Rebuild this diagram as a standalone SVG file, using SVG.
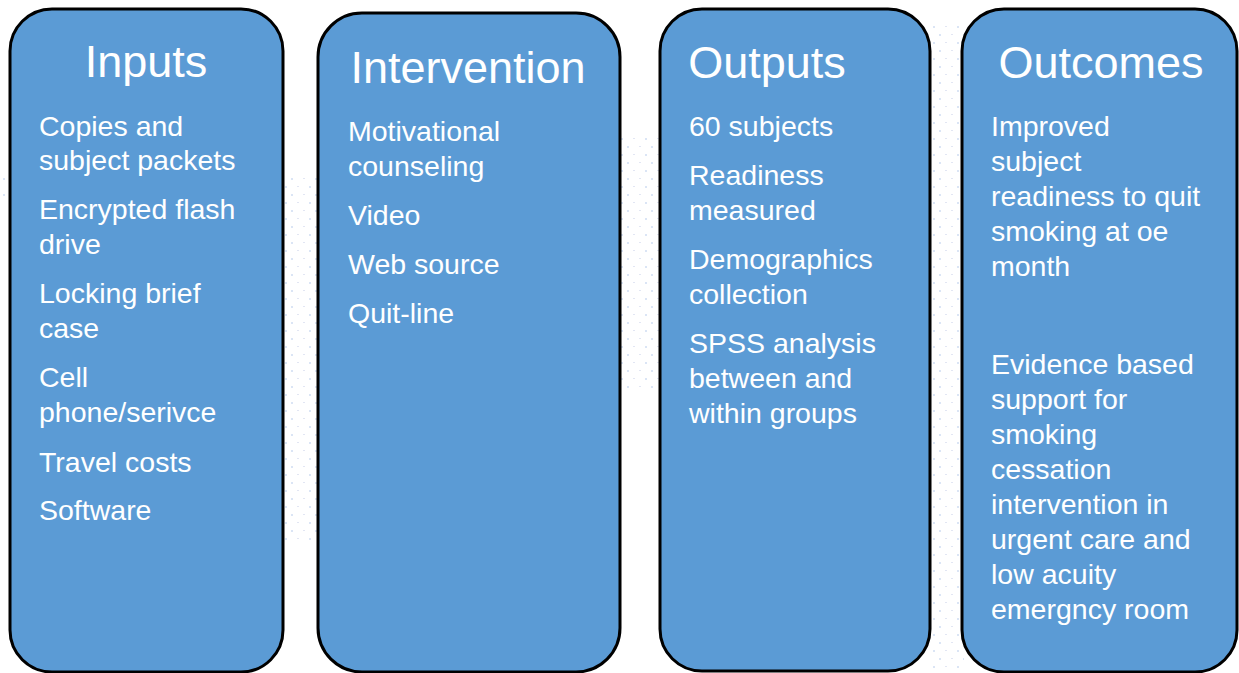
<svg xmlns="http://www.w3.org/2000/svg" width="1239" height="673" viewBox="0 0 1239 673">
  <defs>
    <pattern id="dots" x="0" y="0" width="24" height="16" patternUnits="userSpaceOnUse">
      <rect x="3" y="2" width="2" height="2" fill="#dbe5f5"/>
      <rect x="15" y="2" width="2" height="1" fill="#e2e6f3"/>
      <rect x="9" y="10" width="2" height="1" fill="#e2e6f3"/>
      <rect x="21" y="10" width="2" height="2" fill="#dbe5f5"/>
    </pattern>
    <style>
      .box { fill: #5b9bd5; stroke: #000; stroke-width: 3; }
      .title { font-family: "Liberation Sans", Arial, sans-serif; font-size: 45px; fill: #fff; text-anchor: middle; }
      .item { font-family: "Liberation Sans", Arial, sans-serif; font-size: 28.5px; fill: #fff; }
    </style>
  </defs>
  <rect width="1239" height="673" fill="#fff"/>
  <g id="background">
    <rect x="0" y="172" width="12" height="24" fill="url(#dots)"/>
    <rect x="282" y="172" width="38" height="372" fill="url(#dots)"/>
    <rect x="619" y="138" width="43" height="256" fill="url(#dots)"/>
    <rect x="930" y="24" width="34" height="649" fill="url(#dots)"/>
  </g>
  <g id="connectors"></g>
  <g id="inputs">
    <rect class="box" x="10" y="9" width="273" height="663" rx="42" ry="42"/>
    <text class="title" x="146" y="77">Inputs</text>
    <text class="item" x="39" y="136">Copies and</text>
    <text class="item" x="39" y="170">subject packets</text>
    <text class="item" x="39" y="219">Encrypted flash</text>
    <text class="item" x="39" y="254">drive</text>
    <text class="item" x="39" y="303">Locking brief</text>
    <text class="item" x="39" y="338">case</text>
    <text class="item" x="39" y="387">Cell</text>
    <text class="item" x="39" y="422">phone/serivce</text>
    <text class="item" x="39" y="472">Travel costs</text>
    <text class="item" x="39" y="520">Software</text>
  </g>
  <g id="intervention">
    <rect class="box" x="318" y="13" width="302" height="659" rx="44" ry="44"/>
    <text class="title" x="468" y="83">Intervention</text>
    <text class="item" x="348" y="141">Motivational</text>
    <text class="item" x="348" y="176">counseling</text>
    <text class="item" x="348" y="225">Video</text>
    <text class="item" x="348" y="274">Web source</text>
    <text class="item" x="348" y="323">Quit-line</text>
  </g>
  <g id="outputs">
    <rect class="box" x="660" y="9" width="270" height="662" rx="42" ry="42"/>
    <text class="title" x="767" y="78">Outputs</text>
    <text class="item" x="689" y="136">60 subjects</text>
    <text class="item" x="689" y="185">Readiness</text>
    <text class="item" x="689" y="220">measured</text>
    <text class="item" x="689" y="269">Demographics</text>
    <text class="item" x="689" y="304">collection</text>
    <text class="item" x="689" y="353">SPSS analysis</text>
    <text class="item" x="689" y="388">between and</text>
    <text class="item" x="689" y="423">within groups</text>
  </g>
  <g id="outcomes">
    <rect class="box" x="962" y="9" width="275" height="663" rx="42" ry="42"/>
    <text class="title" x="1101" y="78">Outcomes</text>
    <text class="item" x="991" y="136">Improved</text>
    <text class="item" x="991" y="171">subject</text>
    <text class="item" x="991" y="206">readiness to quit</text>
    <text class="item" x="991" y="241">smoking at oe</text>
    <text class="item" x="991" y="276">month</text>
    <text class="item" x="991" y="374">Evidence based</text>
    <text class="item" x="991" y="409">support for</text>
    <text class="item" x="991" y="444">smoking</text>
    <text class="item" x="991" y="479">cessation</text>
    <text class="item" x="991" y="514">intervention in</text>
    <text class="item" x="991" y="549">urgent care and</text>
    <text class="item" x="991" y="584">low acuity</text>
    <text class="item" x="991" y="619">emergncy room</text>
  </g>
</svg>
